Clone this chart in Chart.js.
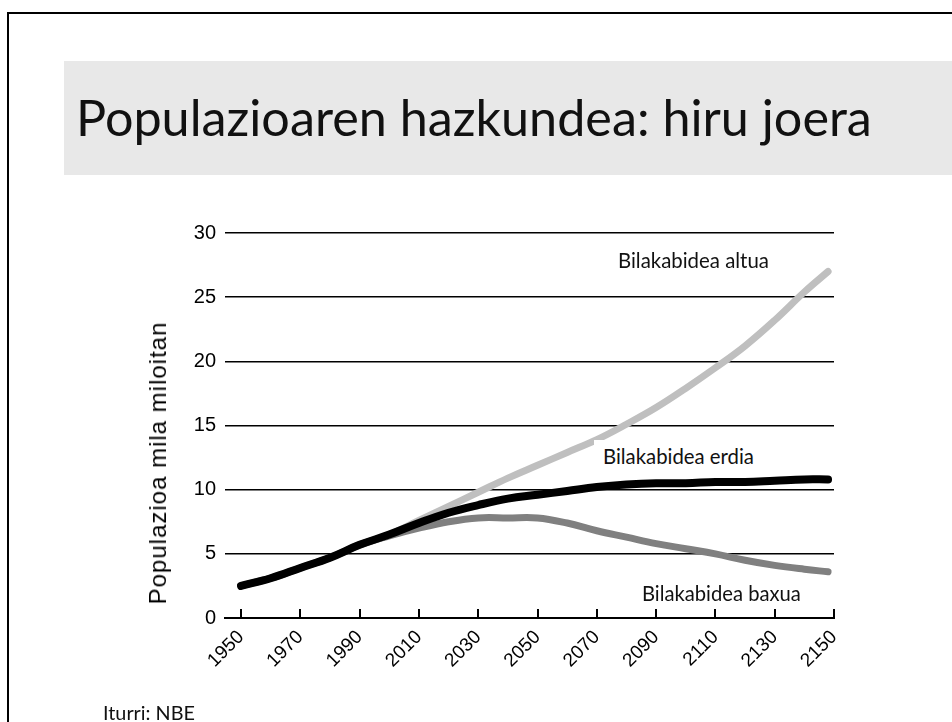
<!DOCTYPE html>
<html>
<head>
<meta charset="utf-8">
<script src="https://cdn.jsdelivr.net/npm/chart.js@4"></script>
<style>
    html, body { margin: 0; padding: 0; background: #fff; overflow: hidden; }
    body { width: 952px; height: 722px; position: relative; font-family: Lato, 'Open Sans', sans-serif; }
    #frame { position: absolute; left: 7px; top: 12px; width: 1100px; height: 1000px; border: 2px solid #000; box-sizing: border-box; }
    #titleBar { position: absolute; left: 64px; top: 61px; width: 900px; height: 114px; background: #e8e8e8; }
    .txt { position: absolute; white-space: nowrap; line-height: 1; color: #111; }
    #chartBox { position: absolute; left: 130px; top: 215px; width: 740px; height: 490px; }
    #yTitle { position: absolute; left: 158px; top: 463px; white-space: nowrap; line-height: 1;
              font-family: 'Liberation Sans', Arial, sans-serif; font-size: 24px; letter-spacing: 1px; color: #000;
              transform: translate(-50%, -50%) rotate(-90deg); }
    #whiteBox { position: absolute; left: 594px; top: 440px; width: 180px; height: 34px; background: #fff; }
</style>
</head>
<body>
<div id="frame"></div>
<div id="titleBar"></div>
<div id="chartBox"><canvas id="popChart" width="740" height="490"></canvas></div>
<div id="yTitle">Populazioa mila miloitan</div>

<script>
// Population projections (thousand millions)
const years = [1950, 1960, 1970, 1980, 1990, 2000, 2010, 2020, 2030, 2040, 2050,
               2060, 2070, 2080, 2090, 2100, 2110, 2120, 2130, 2140, 2148];
const medium = [2.5, 3.1, 3.9, 4.7, 5.7, 6.5, 7.4, 8.2, 8.8, 9.3, 9.6,
                9.9, 10.2, 10.4, 10.5, 10.5, 10.6, 10.6, 10.7, 10.8, 10.8];
const high = [2.5, 3.1, 3.9, 4.7, 5.7, 6.5, 7.6, 8.7, 9.8, 10.9, 11.9,
              12.9, 13.9, 15.1, 16.4, 17.9, 19.5, 21.2, 23.2, 25.4, 27.0];
const low = [2.5, 3.1, 3.9, 4.7, 5.7, 6.4, 7.0, 7.5, 7.8, 7.8, 7.8,
             7.4, 6.8, 6.3, 5.8, 5.4, 5.0, 4.5, 4.1, 3.8, 3.6];
const tickYears = [1950, 1970, 1990, 2010, 2030, 2050, 2070, 2090, 2110, 2130, 2150];
const yTicks = [0, 5, 10, 15, 20, 25, 30];

// Slide texts: [text, left, baseline, target width]
const texts = [
    ['Populazioaren hazkundea: hiru joera', 76, 137, 796],
    ['Bilakabidea altua', 618, 268, 151],
    ['Bilakabidea erdia', 603, 464, 151],
    ['Bilakabidea baxua', 642, 601, 159],
    ['Iturri: NBE', 103, 721, 92]
];

// white patch behind the middle label
document.body.insertAdjacentHTML('beforeend', '<div id="whiteBox"></div>');

// place each text so its width and baseline match the slide
texts.forEach(([t, left, baseline, width]) => {
    const el = document.createElement('div');
    el.className = 'txt';
    el.textContent = t;
    el.style.fontSize = '20px';
    el.style.left = left + 'px';
    document.body.appendChild(el);
    const fs = 20 * width / el.getBoundingClientRect().width;
    el.style.fontSize = fs.toFixed(2) + 'px';
    el.style.top = (baseline - 0.887 * fs).toFixed(1) + 'px';
});

const toPoints = (vals) => vals.map((v, i) => ({ x: years[i], y: v }));

// small upward tick marks on the x axis
const xTickMarks = {
    id: 'xTickMarks',
    afterDatasetsDraw(chart) {
        const ctx = chart.ctx;
        const xs = chart.scales.x;
        const base = chart.chartArea.bottom;
        ctx.save();
        ctx.strokeStyle = '#000';
        ctx.lineWidth = 2;
        tickYears.forEach(t => {
            const px = Math.round(xs.getPixelForValue(t));
            ctx.beginPath();
            ctx.moveTo(px, base);
            ctx.lineTo(px, base - 9);
            ctx.stroke();
        });
        ctx.restore();
    }
};

const line = (label, vals, color, width, order) => ({
    label: label,
    data: toPoints(vals),
    borderColor: color,
    borderWidth: width,
    borderCapStyle: 'round',
    borderJoinStyle: 'round',
    pointRadius: 0,
    tension: 0.4,
    fill: false,
    order: order
});

const ctx = document.getElementById('popChart').getContext('2d');
new Chart(ctx, {
    type: 'line',
    data: {
        datasets: [
            line('Bilakabidea erdia', medium, '#000000', 8, 0),
            line('Bilakabidea altua', high, '#bfbfbf', 7, 1),
            line('Bilakabidea baxua', low, '#808080', 7, 2)
        ]
    },
    options: {
        responsive: false,
        animation: false,
        layout: { padding: { top: 18, right: 36, left: 0, bottom: 0 } },
        plugins: { legend: { display: false }, tooltip: { enabled: false } },
        scales: {
            x: {
                type: 'linear',
                min: 1944.6,
                max: 2150,
                afterBuildTicks: (s) => { s.ticks = tickYears.map(v => ({ value: v })); },
                afterFit: (s) => { s.height = 87; s.paddingLeft = 0; s.paddingRight = 0; },
                grid: { drawOnChartArea: false, drawTicks: false },
                border: { display: true, color: '#000', width: 2 },
                ticks: {
                    minRotation: 45,
                    maxRotation: 45,
                    padding: 8,
                    color: '#000',
                    font: { family: "'Liberation Sans', Arial, sans-serif", size: 19 },
                    callback: (v) => String(v)
                }
            },
            y: {
                min: 0,
                max: 30,
                afterBuildTicks: (s) => { s.ticks = yTicks.map(v => ({ value: v })); },
                afterFit: (s) => { s.width = 95; s.paddingTop = 0; s.paddingBottom = 0; },
                grid: { color: '#000', lineWidth: 1.5, drawTicks: false },
                border: { display: false },
                ticks: {
                    padding: 9,
                    color: '#000',
                    font: { family: "'Liberation Sans', Arial, sans-serif", size: 20 }
                }
            }
        }
    },
    plugins: [xTickMarks]
});
</script>
</body>
</html>
